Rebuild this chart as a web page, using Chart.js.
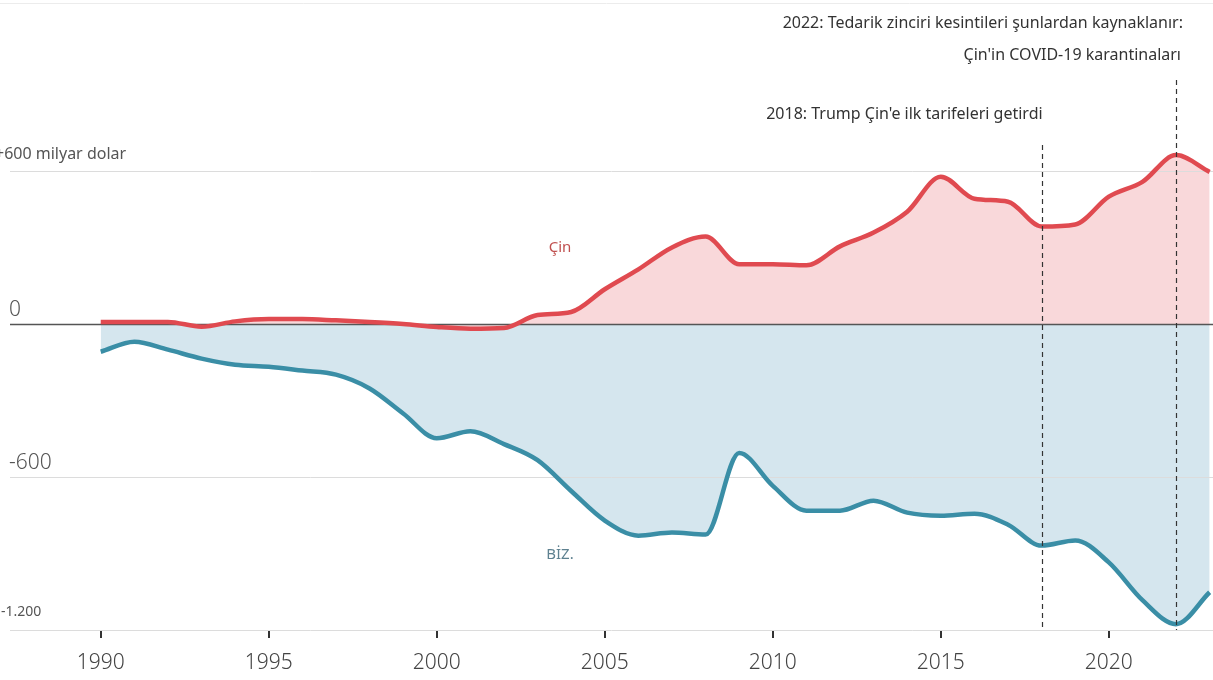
<!DOCTYPE html>
<html lang="tr">
<head>
<meta charset="UTF-8">
<title>Çin ve ABD ticaret dengesi</title>
<script src="https://cdn.jsdelivr.net/npm/chart.js"></script>
<style>
  html, body { margin: 0; padding: 0; background: #fff; }
  #wrap { width: 1213px; height: 680px; }
</style>
</head>
<body>
<div id="wrap"><canvas id="tradeChart" width="1213" height="680"></canvas></div>
<script>
// yillar ve degerler (milyar dolar)
const years = [1990, 1991, 1992, 1993, 1994, 1995, 1996, 1997, 1998, 1999,
  2000, 2001, 2002, 2003, 2004, 2005, 2006, 2007, 2008, 2009,
  2010, 2011, 2012, 2013, 2014, 2015, 2016, 2017, 2018, 2019,
  2020, 2021, 2022, 2023];
const china = [8, 8, 8, -11, 10, 19, 19, 14, 8, 0,
  -12, -19, -16, 35, 47, 136, 214, 300, 343, 234,
  234, 230, 304, 358, 440, 577, 491, 479, 382, 390,
  499, 557, 662, 596];
const us = [-109, -70, -101, -136, -160, -168, -183, -199, -253, -351,
  -448, -421, -471, -534, -655, -771, -830, -818, -826, -506,
  -635, -732, -732, -693, -740, -752, -744, -787, -869, -849,
  -935, -1083, -1177, -1052];
const xTicks = [1990, 1995, 2000, 2005, 2010, 2015, 2020];
const yLines = [600, 0, -600, -1200];
const yLabels = ['+600 milyar dolar', '0', '-600', '-1.200'];
const events = [
  { year: 2018, top: 145, text: ['2018: Trump Çin\'e ilk tarifeleri getirdi'] },
  { year: 2022, top: 80, text: ['2022: Tedarik zinciri kesintileri şunlardan kaynaklanır:', 'Çin\'in COVID-19 karantinaları'] }
];

const FONT = '"Noto Sans", "DejaVu Sans", sans-serif';

// izgaralar, eksen etiketleri ve notlar
const decor = {
  id: 'decor',
  beforeDatasetsDraw(chart) {
    const { ctx, chartArea, scales: { y } } = chart;
    ctx.save();
    // ust ince cizgi
    ctx.strokeStyle = '#ececec';
    ctx.lineWidth = 1;
    ctx.beginPath();
    ctx.moveTo(0, 3.5);
    ctx.lineTo(chart.width, 3.5);
    ctx.stroke();
    yLines.forEach(v => {
      const py = Math.round(y.getPixelForValue(v)) + 0.5;
      ctx.strokeStyle = v === 0 ? '#555' : '#dcdcdc';
      ctx.lineWidth = v === 0 ? 1.3 : 1;
      ctx.beginPath();
      ctx.moveTo(chartArea.left, py);
      ctx.lineTo(chartArea.right, py);
      ctx.stroke();
    });
    ctx.restore();
  },
  afterDatasetsDraw(chart) {
    const { ctx, chartArea, scales: { x, y } } = chart;
    ctx.save();
    // dikey kesikli cizgiler
    ctx.strokeStyle = '#333';
    ctx.lineWidth = 1.2;
    ctx.setLineDash([5, 4]);
    events.forEach(e => {
      const px = Math.round(x.getPixelForValue(e.year)) + 0.5;
      ctx.beginPath();
      ctx.moveTo(px, e.top);
      ctx.lineTo(px, chartArea.bottom);
      ctx.stroke();
    });
    ctx.setLineDash([]);

    // y etiketleri
    ctx.textBaseline = 'middle';
    ctx.textAlign = 'left';
    ctx.fillStyle = '#555';
    ctx.font = '16px ' + FONT;
    ctx.fillText(yLabels[0], -5, y.getPixelForValue(600) - 16);
    ctx.font = '300 21px ' + FONT;
    ctx.fillText(yLabels[1], 9, y.getPixelForValue(0) - 14);
    ctx.fillText(yLabels[2], 9, y.getPixelForValue(-600) - 14);
    ctx.font = '14px ' + FONT;
    ctx.fillText(yLabels[3], 1, y.getPixelForValue(-1200) - 18);

    // seri etiketleri
    ctx.textAlign = 'center';
    ctx.font = '15px ' + FONT;
    ctx.fillStyle = '#c0504f';
    ctx.fillText('Çin', 560, 248);
    ctx.fillStyle = '#5e8190';
    ctx.fillText('BİZ.', 560, 555);

    // not metinleri
    ctx.fillStyle = '#333';
    ctx.font = '16px ' + FONT;
    ctx.textAlign = 'right';
    ctx.fillText(events[1].text[0], 1183, 23);
    ctx.fillText(events[1].text[1], 1181, 55);
    ctx.fillText(events[0].text[0], x.getPixelForValue(2018) + 1, 114);
    ctx.restore();
  }
};

const toPoints = arr => arr.map((v, i) => ({ x: years[i], y: v }));

const config = {
  type: 'line',
  data: {
    datasets: [
      {
        label: 'Çin',
        data: toPoints(china),
        borderColor: '#e04a50',
        backgroundColor: '#f9d8da',
        borderWidth: 4.5,
        fill: 'origin',
        pointRadius: 0,
        cubicInterpolationMode: 'monotone'
      },
      {
        label: 'BİZ.',
        data: toPoints(us),
        borderColor: '#3a8ea6',
        backgroundColor: '#d5e6ee',
        borderWidth: 4.5,
        fill: 'origin',
        pointRadius: 0,
        cubicInterpolationMode: 'monotone'
      }
    ]
  },
  options: {
    responsive: false,
    animation: false,
    layout: { padding: { left: 10, right: 0, top: 0, bottom: -9 } },
    scales: {
      x: {
        type: 'linear',
        min: 1987.3,
        max: 2023.1,
        afterBuildTicks: axis => { axis.ticks = xTicks.map(v => ({ value: v })); },
        border: { display: false },
        grid: { drawOnChartArea: false, drawTicks: true, tickLength: 8, color: '#333', lineWidth: 2 },
        ticks: {
          padding: 15,
          color: '#444',
          font: { family: FONT, size: 21, weight: 300, lineHeight: 1 },
          maxRotation: 0,
          callback: v => String(v)
        }
      },
      y: {
        display: false,
        min: -1200,
        max: 1270
      }
    },
    plugins: {
      legend: { display: false },
      tooltip: { enabled: false },
      filler: { drawTime: 'beforeDatasetsDraw' }
    }
  },
  plugins: [decor]
};

new Chart(document.getElementById('tradeChart').getContext('2d'), config);
</script>
</body>
</html>
